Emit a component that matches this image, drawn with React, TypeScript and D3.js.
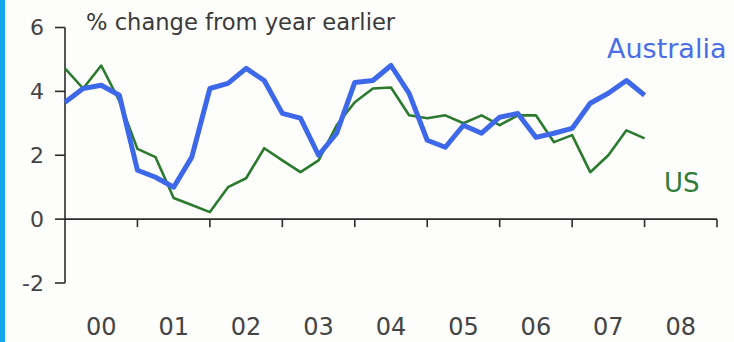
import React from "react";
import * as d3 from "d3";

const W = 734;
const H = 342;

// Quarterly observations, 2000Q1 .. 2008Q1 (index 0..32)
const australia = [
  3.66, 4.09, 4.19, 3.88, 1.53, 1.31, 1.0, 1.94, 4.09, 4.25, 4.72, 4.34,
  3.31, 3.16, 2.0, 2.69, 4.28, 4.34, 4.81, 3.94, 2.47, 2.25, 2.94, 2.69,
  3.19, 3.31, 2.56, 2.69, 2.84, 3.63, 3.94, 4.34, 3.88,
];
const us = [
  4.72, 4.09, 4.81, 3.7, 2.2, 1.94, 0.66, 0.44, 0.22, 1.0, 1.28, 2.22,
  1.84, 1.47, 1.84, 2.94, 3.66, 4.09, 4.12, 3.25, 3.16, 3.25, 3.0, 3.25,
  2.94, 3.25, 3.25, 2.41, 2.63, 1.47, 2.0, 2.78, 2.53,
];
const yearLabels = ["00", "01", "02", "03", "04", "05", "06", "07", "08"];
const yTicks = [-2, 0, 2, 4, 6];
const title = "% change from year earlier";
const seriesNames = ["Australia", "US"];

export default function App() {
  const x = d3.scaleLinear().domain([0, 36]).range([65, 717]);
  const y = d3.scaleLinear().domain([-2, 6]).range([283, 27.5]);
  const line = d3
    .line<number>()
    .x((_, i) => x(i))
    .y((d) => y(d));
  const font = "'DejaVu Sans', Verdana, sans-serif";
  const axisColor = "#2b2b2b";
  const textColor = "#444";
  const yearTicks = d3.range(0, 37, 4);

  return (
    <svg
      width={W}
      height={H}
      style={{ position: "fixed", left: 0, top: 0 }}
      fontFamily={font}
    >
      <rect x={0} y={0} width={W} height={H} fill="#fdfdfb" />
      <rect x={0} y={0} width={5} height={H} fill="#12a6ea" />

      {/* y axis */}
      <line x1={x(0)} x2={x(0)} y1={y(-2)} y2={y(6)} stroke={axisColor} strokeWidth={1.6} />
      {yTicks.map((t) => (
        <g key={t}>
          <line x1={x(0) - 10} x2={x(0)} y1={y(t)} y2={y(t)} stroke={axisColor} strokeWidth={1.6} />
          <text
            x={44}
            y={y(t)}
            dy="0.36em"
            textAnchor="end"
            fontSize={22}
            fill={textColor}
          >
            {t}
          </text>
        </g>
      ))}

      {/* x axis at zero */}
      <line x1={x(0)} x2={x(36)} y1={y(0)} y2={y(0)} stroke={axisColor} strokeWidth={1.6} />
      {yearTicks.slice(1).map((q) => (
        <line key={q} x1={x(q)} x2={x(q)} y1={y(0)} y2={y(0) + 8} stroke={axisColor} strokeWidth={1.6} />
      ))}
      {yearLabels.map((lab, i) => (
        <text
          key={lab}
          x={x(i * 4 + 2)}
          y={335}
          textAnchor="middle"
          fontSize={24}
          fill={textColor}
        >
          {lab}
        </text>
      ))}

      <text x={86} y={30} fontSize={22.6} fill="#3a3a3a">
        {title}
      </text>

      <path d={line(us) || ""} fill="none" stroke="#2b7a2e" strokeWidth={2.6} strokeLinejoin="round" />
      <path d={line(australia) || ""} fill="none" stroke="#3d68ea" strokeWidth={5} strokeLinejoin="round" />

      <text x={607} y={58} fontSize={27} fill="#4a6ee6">
        {seriesNames[0]}
      </text>
      <text x={664} y={192} fontSize={26} fill="#2f7d3a">
        {seriesNames[1]}
      </text>
    </svg>
  );
}
